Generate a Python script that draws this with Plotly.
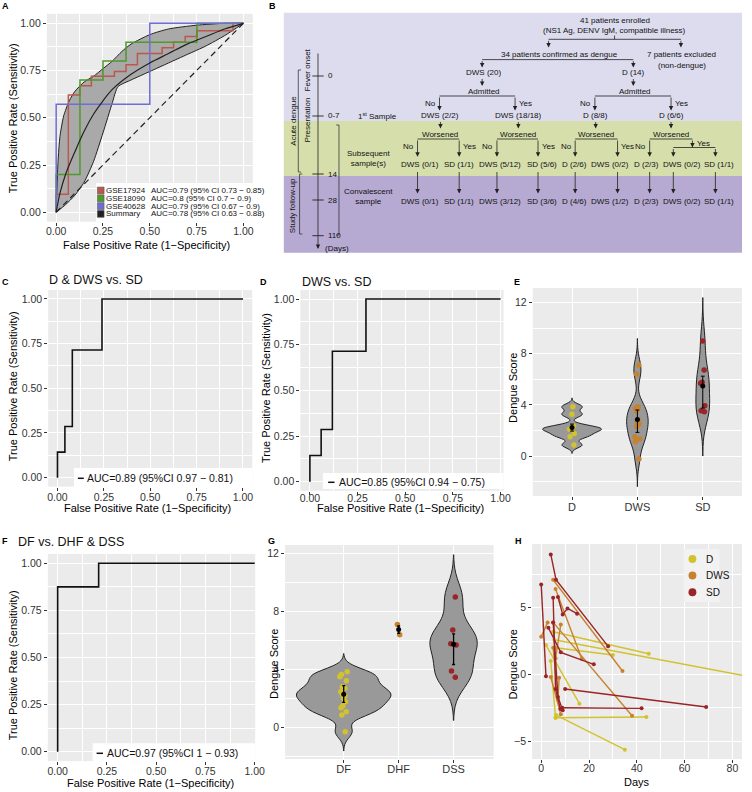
import plotly.graph_objects as go

W, H = 752, 792
FONT = "Liberation Sans, Arial, sans-serif"


def X(px):
    return px / W


def Y(py):
    return 1 - py / H


# ======================= DATA =======================
# ---- Panel A: meta-analysis ROC curves ----
A_names = ["GSE17924", "GSE18090", "GSE40628", "Summary"]
A_auc_text = ["AUC=0.79 (95% CI 0.73 \u2212 0.85)",
              "AUC=0.8 (95% CI 0.7 \u2212 0.9)",
              "AUC=0.79 (95% CI 0.67 \u2212 0.9)",
              "AUC=0.78 (95% CI 0.63 \u2212 0.88)"]
A_colors = ["#BC574E", "#4E9A2A", "#6E6ED4", "#222222"]
gse17924_fpr = [0, 0.065, 0.127, 0.188, 0.311, 0.373, 0.434, 0.566, 0.627, 0.689, 0.752, 0.944, 1.0]
gse17924_tpr = [0, 0.095, 0.62, 0.67, 0.72, 0.745, 0.78, 0.84, 0.87, 0.90, 0.93, 0.96, 1.0]
gse18090_fpr = [0, 0.127, 0.25, 0.373, 0.752, 1.0]
gse18090_tpr = [0, 0.20, 0.70, 0.80, 0.90, 1.0]
gse40628_fpr = [0, 0.5, 1.0]
gse40628_tpr = [0, 0.571, 1.0]
summary_fpr = [0, 0.02, 0.05, 0.1, 0.15, 0.2, 0.25, 0.3, 0.4, 0.5, 0.6, 0.7, 0.8, 0.9, 1.0]
summary_tpr = [0, 0.10, 0.20, 0.32, 0.43, 0.52, 0.59, 0.65, 0.73, 0.79, 0.84, 0.89, 0.93, 0.97, 1.0]
summary_upper_fpr = [0, 0.005, 0.01, 0.02, 0.04, 0.07, 0.1, 0.15, 0.2, 0.25, 0.3, 0.35, 0.4, 0.5, 0.6, 0.75, 0.9, 1.0]
summary_upper_tpr = [0, 0.15, 0.27, 0.40, 0.51, 0.59, 0.64, 0.69, 0.72, 0.76, 0.80, 0.85, 0.89, 0.94, 0.97, 0.99, 1.0, 1.0]
summary_lower_fpr = [0, 0.05, 0.1, 0.15, 0.2, 0.25, 0.3, 0.33, 0.4, 0.5, 0.6, 0.7, 0.8, 0.9, 1.0]
summary_lower_tpr = [0, 0.04, 0.09, 0.16, 0.27, 0.42, 0.58, 0.665, 0.70, 0.745, 0.79, 0.835, 0.88, 0.935, 1.0]
chance_fpr = [0, 1]
chance_tpr = [0, 1]

# ---- Panels C, D, F: ROC curves ----
C_title = "D & DWS vs. SD"
C_fpr = [0, 0.04, 0.08, 0.24, 1.0]
C_tpr = [0, 0.143, 0.286, 0.714, 1.0]
C_auc = "AUC=0.89 (95%CI 0.97 \u2212 0.81)"

D_title = "DWS vs. SD"
D_fpr = [0, 0.059, 0.118, 0.294, 1.0]
D_tpr = [0, 0.143, 0.286, 0.714, 1.0]
D_auc = "AUC=0.85 (95%CI 0.94 \u2212 0.75)"

F_title = "DF vs. DHF & DSS"
F_fpr = [0, 0.208, 1.0]
F_tpr = [0, 0.875, 1.0]
F_auc = "AUC=0.97 (95%CI 1 \u2212 0.93)"

ROC_ticks = [0, 0.25, 0.5, 0.75, 1.0]
ROC_ticktext = ["0.00", "0.25", "0.50", "0.75", "1.00"]

# ---- Panel E: dengue score by group ----
E_categories = ["D", "DWS", "SD"]
E_D = [3.86, 3.26, 2.32, 2.10, 2.09, 1.77, 1.51, 0.86]
E_DWS = [7.12, 6.39, 3.86, 3.73, 3.52, 2.82, 2.69, 2.48, 2.30, 1.51, 1.33, 1.12, -0.23]
E_SD = [9.0, 6.73, 5.77, 5.69, 3.94, 3.47, 3.55]
E_center = [2.24, 2.85, 5.47]
E_low = [1.95, 1.85, 3.75]
E_high = [2.50, 3.60, 6.25]

# ---- Panel G: dengue score by WHO class ----
G_categories = ["DF", "DHF", "DSS"]
G_DF = [3.85, 3.67, 3.51, 3.24, 2.82, 2.71, 2.48, 2.29, 2.20, 2.02, 1.79, 1.51, 1.38, 1.10, 0.87, -0.28]
G_DHF = [7.1, 6.4]
G_DSS = [9.0, 6.73, 5.77, 5.69, 3.9, 3.47]
G_center = [2.30, 6.75, 5.75]
G_low = [1.75, 6.50, 4.35]
G_high = [2.90, 7.00, 6.45]

# ---- Panel H: longitudinal dengue scores ----
H_group_names = ["D", "DWS", "SD"]
H_group_colors = ["#D2C22E", "#C7822F", "#9A2427"]
H_patient_group = ["D", "D", "D", "D", "D", "D", "D",
                   "DWS", "DWS", "DWS", "DWS", "DWS", "DWS", "DWS",
                   "SD", "SD", "SD", "SD", "SD", "SD", "SD", "SD"]
H_patient_days = [[5, 45], [5.5, 85], [6, 30], [2, 16], [6, 44], [6.2, 35], [4, 6],
                  [5, 34], [6, 17], [5, 38], [0, 2.7], [6, 8.2], [4, 8.2], [5, 7, 7.5],
                  [4, 6.2, 28], [7, 9, 11, 15], [0, 2], [5, 6, 8], [3, 8.2, 22], [10, 69], [8.8, 42], [5, 7, 9]]
H_patient_scores = [[3.2, 1.55], [2.6, -0.1], [2.0, 1.45], [2.2, -2.2], [-3.25, -3.2], [-3.05, -5.65], [1.0, -3.25],
                    [7.1, 0.25], [6.4, 1.15], [3.9, -3.1], [2.83, 3.9], [1.2, 3.75], [-0.2, -3.0], [2.0, -1.9, -0.25],
                    [9.0, 7.1, 2.1], [5.8, 4.5, 4.95, 4.55], [6.75, -0.15], [5.75, -1.1, -2.6], [3.5, 1.65, 0.75],
                    [-1.1, -2.45], [-2.5, -2.55], [3.9, -1.7, -2.7]]

# ---- Panel B: study flow text ----
B_row2_labels = ["DWS (0/1)", "SD (1/1)", "DWS (5/12)", "SD (5/6)", "D (2/6)", "DWS (0/2)", "D (2/3)", "DWS (0/2)", "SD (1/1)"]
B_row3_labels = ["DWS (0/1)", "SD (1/1)", "DWS (3/12)", "SD (3/6)", "D (4/6)", "DWS (1/2)", "D (2/3)", "DWS (0/2)", "SD (1/1)"]
B_first_labels = ["DWS (2/2)", "DWS (18/18)", "D (8/8)", "D (6/6)"]
B_timeline_ticks = ["0", "0-7", "14", "28", "110"]

# ======================= FIGURE =======================
fig = go.Figure()
shapes = []
annotations = []

layout = dict(width=W, height=H, margin=dict(l=0, r=0, t=0, b=0),
              paper_bgcolor="white", plot_bgcolor="#EBEBEB", showlegend=False,
              font=dict(family=FONT, size=10, color="#222"), violinmode="overlay")

common_axis = dict(showline=False, zeroline=False, ticks="outside", ticklen=3, tickwidth=1,
                   tickcolor="#333", tickfont=dict(size=10.5, color="#333", family=FONT),
                   gridcolor="white", gridwidth=1.1, fixedrange=True, layer="below traces",
                   type="linear")


def minor(vals):
    return dict(tickmode="array", tickvals=vals, showgrid=True, gridcolor="white", gridwidth=0.55, ticks="")


def add_axes(n, xdom, ydom, xrange, yrange, xkw, ykw):
    xn = "xaxis" if n == 1 else f"xaxis{n}"
    yn = "yaxis" if n == 1 else f"yaxis{n}"
    xr = "x" if n == 1 else f"x{n}"
    yr = "y" if n == 1 else f"y{n}"
    layout[xn] = dict(domain=[X(xdom[0]), X(xdom[1])], range=xrange, anchor=yr, **common_axis, **xkw)
    layout[yn] = dict(domain=[Y(ydom[1]), Y(ydom[0])], range=yrange, anchor=xr, **common_axis, **ykw)
    return xr, yr


def roc_kw(standoff=0):
    return dict(tickmode="array", tickvals=ROC_ticks, ticktext=ROC_ticktext,
                minor=minor([0.125, 0.375, 0.625, 0.875]), ticklabelstandoff=standoff)


def txt(x, y, s, size=8, xa="center", ya="middle", angle=0, color="#111", bold=False, pad=1):
    if bold:
        s = f"<b>{s}</b>"
    annotations.append(dict(xref="paper", yref="paper", x=X(x), y=Y(y), text=s, showarrow=False,
                            xanchor=xa, yanchor=ya, textangle=angle, borderpad=pad,
                            font=dict(size=size, color=color, family=FONT)))


def line(x0, y0, x1, y1, w=0.8, color="#222"):
    shapes.append(dict(type="line", xref="paper", yref="paper", x0=X(x0), y0=Y(y0), x1=X(x1), y1=Y(y1),
                       line=dict(color=color, width=w), layer="above"))


def rect(x0, y0, x1, y1, fill, layer="above", lw=0, lc="rgba(0,0,0,0)"):
    shapes.append(dict(type="rect", xref="paper", yref="paper", x0=X(x0), y0=Y(y1), x1=X(x1), y1=Y(y0),
                       fillcolor=fill, line=dict(width=lw, color=lc), layer=layer))


def circle(cx, cy, r, fill):
    shapes.append(dict(type="circle", xref="paper", yref="paper", x0=X(cx - r), x1=X(cx + r),
                       y0=Y(cy + r), y1=Y(cy - r), fillcolor=fill, line=dict(width=0), layer="above"))


def arrow(x, y0, y1):
    annotations.append(dict(xref="paper", yref="paper", x=X(x), y=Y(y1), ax=0, ay=(y0 - y1),
                            showarrow=True, arrowhead=2, arrowsize=1.1, arrowwidth=0.8,
                            arrowcolor="#222", text="", standoff=0))


# ---------------- Panel A ----------------
xa, ya = add_axes(1, (46.5, 255.5), (13.85, 221.7), [-0.05, 1.05], [-0.05, 1.05], roc_kw(-3), roc_kw())
fig.add_trace(go.Scatter(x=summary_lower_fpr, y=summary_lower_tpr, xaxis=xa, yaxis=ya, mode="lines",
                         line=dict(color="#222", width=1, shape="spline", smoothing=0.6)))
fig.add_trace(go.Scatter(x=summary_upper_fpr, y=summary_upper_tpr, xaxis=xa, yaxis=ya, mode="lines",
                         fill="tonexty", fillcolor="#A9A9A9",
                         line=dict(color="#222", width=1, shape="spline", smoothing=0.6)))
fig.add_trace(go.Scatter(x=chance_fpr, y=chance_tpr, xaxis=xa, yaxis=ya, mode="lines",
                         line=dict(color="#222", width=1.2, dash="6px,4px")))
for fpr, tpr, col in [(gse17924_fpr, gse17924_tpr, A_colors[0]),
                      (gse18090_fpr, gse18090_tpr, A_colors[1]),
                      (gse40628_fpr, gse40628_tpr, A_colors[2])]:
    fig.add_trace(go.Scatter(x=fpr, y=tpr, xaxis=xa, yaxis=ya, mode="lines",
                             line=dict(color=col, width=1.5, shape="vh")))
fig.add_trace(go.Scatter(x=summary_fpr, y=summary_tpr, xaxis=xa, yaxis=ya, mode="lines",
                         line=dict(color="#222", width=1.2, shape="spline")))

# legend A
rect(96.5, 183, 255.5, 221.7, "white")
for i in range(4):
    yy = 190.5 + i * 7.8
    rect(97.8, yy - 3.4, 104.6, yy + 3.4, A_colors[i], lw=0.6, lc="#555")
    txt(106, yy, A_names[i], size=8, xa="left", pad=0)
    txt(151.5, yy, A_auc_text[i], size=8, xa="left", pad=0)

txt(147.5, 245, "False Positive Rate (1\u2212Specificity)", size=11, color="#000")
txt(12.5, 118, "True Positive Rate (Sensitivity)", size=11, angle=-90, color="#000")

# ---------------- Panel C ----------------
xc, yc = add_axes(2, (47.9, 255), (290, 486.6), [-0.05, 1.05], [-0.05, 1.05], roc_kw(-2), roc_kw())
fig.add_trace(go.Scatter(x=C_fpr, y=C_tpr, xaxis=xc, yaxis=yc, mode="lines",
                         line=dict(color="#111", width=1.6, shape="vh")))
rect(74, 468, 255, 487, "white")
line(78, 478.3, 84, 478.3, w=1.5, color="#111")
txt(85.5, 478.3, C_auc, size=10.5, xa="left")
txt(47, 280, C_title, size=12.5, xa="left")
txt(149, 507.5, "False Positive Rate (1\u2212Specificity)", size=11, color="#000")
txt(12.5, 386, "True Positive Rate (Sensitivity)", size=11, angle=-90, color="#000")

# ---------------- Panel D ----------------
xd, yd = add_axes(3, (303.8, 510), (289.9, 490.8), [-0.05, 1.0155], [-0.05, 1.05], roc_kw(-5), roc_kw())
fig.add_trace(go.Scatter(x=D_fpr, y=D_tpr, xaxis=xd, yaxis=yd, mode="lines",
                         line=dict(color="#111", width=1.6, shape="vh")))
rect(326.7, 473, 510, 489, "white")
line(332, 482.3, 338.5, 482.3, w=1.5, color="#111")
txt(340.5, 482.3, D_auc, size=10.5, xa="left")
txt(303, 281.7, D_title, size=12.5, xa="left")
txt(405, 507.5, "False Positive Rate (1\u2212Specificity)", size=11, color="#000")
txt(269, 388, "True Positive Rate (Sensitivity)", size=11, angle=-90, color="#000")

# ---------------- Panel E ----------------
cat_kw_E = dict(tickmode="array", tickvals=[0, 1, 2], ticktext=E_categories,
                tickfont=dict(size=11, color="#333", family=FONT), ticklabelstandoff=-2)
sc_kw = dict(tickmode="array", tickvals=[0, 4, 8, 12], minor=minor([-2, 2, 6, 10]))
ce = {k: v for k, v in common_axis.items() if k != "tickfont"}
layout["xaxis4"] = dict(domain=[X(539.7), X(752)], range=[-0.6, 2.6], anchor="y4", **ce, **cat_kw_E)
layout["yaxis4"] = dict(domain=[Y(496), Y(288)], range=[-3.13, 13.15], anchor="x4", **common_axis, **sc_kw)

E_sets = [(E_D, 0, 0.22, [0.2, 4.55], 0.9, 0.12, H_group_colors[0]),
          (E_DWS, 1, 0.7, [-2.4, 9.2], 0.33, 0.3, H_group_colors[1]),
          (E_SD, 2, 1.15, [0.0, 12.4], 0.21, 0.45, H_group_colors[2])]
for vals, pos, bw, span, wid, jit, col in E_sets:
    fig.add_trace(go.Violin(y=vals, x0=pos, xaxis="x4", yaxis="y4", fillcolor="#999999",
                            line=dict(color="#222", width=1), points="all", pointpos=0, jitter=jit,
                            marker=dict(color=col, size=5.5), width=wid, scalemode="width",
                            bandwidth=bw, spanmode="manual", span=span, hoveron="points"))
fig.add_trace(go.Scatter(x=[0, 1, 2], y=E_center, xaxis="x4", yaxis="y4", mode="markers",
                         marker=dict(color="black", size=5),
                         error_y=dict(type="data", symmetric=False,
                                      array=[h - c for h, c in zip(E_high, E_center)],
                                      arrayminus=[c - l for c, l in zip(E_center, E_low)],
                                      color="black", thickness=1, width=2)))
txt(519.5, 388, "Dengue Score", size=11, angle=-90, color="#000")

# ---------------- Panel F ----------------
xf, yf = add_axes(5, (47.5, 258), (553.9, 761.1), [-0.05, 1.0025], [-0.05, 1.05], roc_kw(-3), roc_kw())
fig.add_trace(go.Scatter(x=F_fpr, y=F_tpr, xaxis=xf, yaxis=yf, mode="lines",
                         line=dict(color="#111", width=1.6, shape="vh")))
rect(93, 743.3, 258, 761.7, "white")
line(97, 753.3, 103.5, 753.3, w=1.5, color="#111")
txt(105.5, 753.3, F_auc, size=10.5, xa="left")
txt(15, 541.7, F_title, size=12.5, xa="left")
txt(152, 782.5, "False Positive Rate (1\u2212Specificity)", size=11, color="#000")
txt(12.5, 665, "True Positive Rate (Sensitivity)", size=11, angle=-90, color="#000")

# ---------------- Panel G ----------------
cat_kw_G = dict(tickmode="array", tickvals=[0, 1, 2], ticktext=G_categories,
                tickfont=dict(size=11, color="#333", family=FONT), ticklabelstandoff=-3)
layout["xaxis6"] = dict(domain=[X(288.3), X(500)], range=[-1.067, 2.73], anchor="y6", **ce, **cat_kw_G)
layout["yaxis6"] = dict(domain=[Y(759), Y(545)], range=[-2.15, 12.57], anchor="x6", **common_axis, **sc_kw)

G_sets = [(G_DF, 0, 0.43, [-1.6, 5.1], 1.72, 0.09, H_group_colors[0], "#999999", 1),
          (G_DHF, 1, 0.3, [6.3, 7.2], 0.12, 0.6, H_group_colors[1], "rgba(0,0,0,0)", 0),
          (G_DSS, 2, 1.0, [0.5, 11.9], 0.86, 0.14, H_group_colors[2], "#999999", 1)]
for vals, pos, bw, span, wid, jit, col, fc, lw in G_sets:
    fig.add_trace(go.Violin(y=vals, x0=pos, xaxis="x6", yaxis="y6", fillcolor=fc,
                            line=dict(color="#222" if lw else "rgba(0,0,0,0)", width=lw if lw else 0.01),
                            points="all", pointpos=0, jitter=jit,
                            marker=dict(color=col, size=5.5), width=wid, scalemode="width",
                            bandwidth=bw, spanmode="manual", span=span, hoveron="points"))
fig.add_trace(go.Scatter(x=[0, 1, 2], y=G_center, xaxis="x6", yaxis="y6", mode="markers",
                         marker=dict(color="black", size=5),
                         error_y=dict(type="data", symmetric=False,
                                      array=[h - c for h, c in zip(G_high, G_center)],
                                      arrayminus=[c - l for c, l in zip(G_center, G_low)],
                                      color="black", thickness=1.3, width=1.5)))
txt(277, 664, "Dengue Score", size=11, angle=-90, color="#000")

# ---------------- Panel H ----------------
hx_kw = dict(tickmode="array", tickvals=[0, 20, 40, 60, 80], minor=minor([10, 30, 50, 70]), ticklabelstandoff=-4)
hy_kw = dict(tickmode="array", tickvals=[-5, 0, 5], minor=minor([-2.5, 2.5, 7.5]))
xh, yh = add_axes(7, (539, 752), (544, 759), [-3.8, 84], [-6.35, 9.78], hx_kw, hy_kw)
for gname, gcol in zip(H_group_names, H_group_colors):
    xs, ys = [], []
    for g, d, s in zip(H_patient_group, H_patient_days, H_patient_scores):
        if g == gname:
            xs += d + [None]
            ys += s + [None]
    fig.add_trace(go.Scatter(x=xs, y=ys, xaxis=xh, yaxis=yh, mode="lines+markers",
                             line=dict(color=gcol, width=1.4), marker=dict(color=gcol, size=4)))
rect(692.7, 549, 729, 602, "#F2F2F2")
for i, (gname, gcol) in enumerate(zip(H_group_names, H_group_colors)):
    cy = 559 + i * 16.6
    circle(701.7, cy, 4, gcol)
    txt(713, cy, gname, size=10, xa="left")
txt(645, 782, "Days", size=11, color="#000")
txt(520, 664, "Dengue Score", size=11, angle=-90, color="#000")

# ---------------- Panel B (study flow diagram) ----------------
rect(287, 12.7, 752, 121, "#DCDCEE", layer="below")
rect(287, 121, 752, 176, "#D6DFAB", layer="below")
rect(287, 176, 752, 252.7, "#B6AAD2", layer="below")

# timeline
arrow(321.7, 52, 249)
tick_y = [76, 116, 174, 200, 235.7]
for ty, lab in zip(tick_y, B_timeline_ticks):
    line(316, ty, 327.5, ty, w=0.9)
    txt(329.5, ty, lab, size=8, xa="left")
txt(327, 248.5, "(Days)", size=8, xa="left")
# brackets
line(301.7, 70, 301.7, 172, w=0.7)
line(301.7, 70, 304.5, 70, w=0.7)
line(301.7, 172, 304.5, 172, w=0.7)
line(303, 174, 303, 234, w=0.7)
line(303, 174, 305.8, 174, w=0.7)
line(303, 234, 305.8, 234, w=0.7)
line(343, 125, 343, 235, w=0.7)
line(340.2, 125, 343, 125, w=0.7)
line(340.2, 235, 343, 235, w=0.7)
txt(296, 121, "Acute dengue", size=8, angle=-90)
txt(295.5, 206, "Study follow-up", size=8, angle=-90)
txt(312, 70, "Fever onset", size=8, angle=-90)
txt(312, 120, "Presentation", size=8, angle=-90)
txt(360, 116, "1<sup>st</sup> Sample", size=8, xa="left")
txt(373, 159, "Subsequent<br>sample(s)", size=8)
txt(373, 196.7, "Convalescent<br>sample", size=8)

# tree top
txt(623, 20.7, "41 patients enrolled", size=8)
txt(623, 30.7, "(NS1 Ag, DENV IgM, compatible illness)", size=8)
line(622.7, 35.5, 622.7, 39.3)
line(555.7, 39.3, 690, 39.3)
arrow(555.7, 39.3, 47.5)
arrow(690, 39.3, 47.5)
txt(567, 55, "34 patients confirmed as dengue", size=8)
txt(691, 55, "7 patients excluded", size=8)
txt(691, 65, "(non-dengue)", size=8)
line(488.3, 59.6, 641.7, 59.6)
arrow(488.3, 59.6, 67.5)
arrow(641.7, 59.6, 67.5)
txt(490, 72.7, "DWS (20)", size=8)
txt(641.7, 72.7, "D (14)", size=8)
# admitted
for xcen, xl, xr in [(488.3, 445, 521.7), (641.7, 602.7, 680)]:
    arrow(xcen, 77.5, 86)
    txt(xcen + 1.5, 91.5, "Admitted", size=8)
    line(xl, 96, xr, 96)
    arrow(xl, 96, 110.5)
    arrow(xr, 96, 110.5)
    txt(xl - 1.5, 104, "No", size=8, xa="right")
    txt(xr + 1.5, 104, "Yes", size=8, xa="left")
first_x = [446, 525.5, 603.5, 680.5]
for xcen, lab in zip(first_x, B_first_labels):
    txt(xcen, 116, lab, size=8)

# worsened brackets
branches = [(446, 422.7, 465), (525, 503.3, 545), (603.5, 582.7, 625.7), (680, 658.3, 701.7)]
for i, (xcen, xl, xr) in enumerate(branches):
    arrow(xcen, 120.5, 128.5)
    txt(xcen, 134.5, "Worsened", size=8)
    line(xl, 139, xr, 139)
    arrow(xl, 139, 156.7)
    txt(xl - 1.5, 146.5, "No", size=8, xa="right")
    if i < 3:
        arrow(xr, 139, 156.7)
        txt(xr + 1.5, 146.5, "Yes", size=8, xa="left")
    else:
        arrow(xr, 139, 147.5)
        line(682.3, 147.5, 725, 147.5)
        arrow(682.3, 147.5, 156.7)
        arrow(725, 147.5, 156.7)
        txt(704, 143, "Yes", size=8, xa="left")

row_arrow_x = [422.7, 465, 503.3, 545, 582.7, 625.7, 658.3, 682.3, 725]
row_text_x = [425.3, 465, 506, 549, 582, 618.5, 655.3, 691, 728.5]
for xa_, xt, l2, l3 in zip(row_arrow_x, row_text_x, B_row2_labels, B_row3_labels):
    txt(xt, 164, l2, size=8)
    arrow(xa_, 170.5, 193.5)
    txt(xt, 201.7, l3, size=8)

# ---------------- panel letters ----------------
for lab, px, py in [("A", 4.5, 6), ("B", 276, 6), ("C", 5, 282), ("D", 266.7, 282), ("E", 523.3, 282),
                    ("F", 4.5, 541), ("G", 275, 541), ("H", 525.5, 541)]:
    txt(px, py, lab, size=9, bold=True, color="#000")

layout["shapes"] = shapes
layout["annotations"] = annotations
fig.update_layout(**layout)
fig.write_html("out.html", config={"displayModeBar": False},
               post_script="document.body.style.margin='0';document.body.style.padding='0';"
                           "document.documentElement.style.margin='0';")
